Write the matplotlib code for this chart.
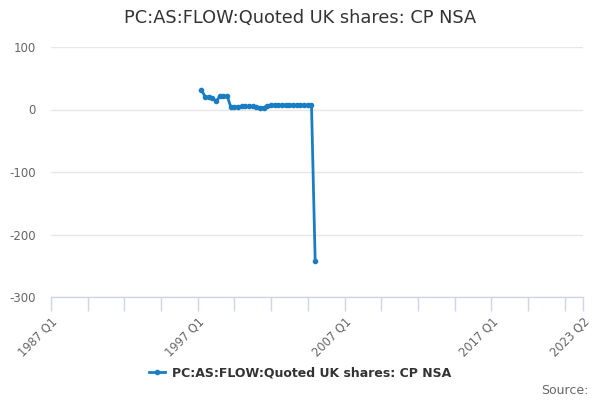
import matplotlib
matplotlib.use("Agg")
import matplotlib.pyplot as plt
from matplotlib.lines import Line2D

title = "PC:AS:FLOW:Quoted UK shares: CP NSA"
series_name = "PC:AS:FLOW:Quoted UK shares: CP NSA"

quarters = ["1997 Q2", "1997 Q3", "1997 Q4", "1998 Q1", "1998 Q2", "1998 Q3", "1998 Q4", "1999 Q1",
            "1999 Q2", "1999 Q3", "1999 Q4", "2000 Q1", "2000 Q2", "2000 Q3", "2000 Q4", "2001 Q1",
            "2001 Q2", "2001 Q3", "2001 Q4", "2002 Q1", "2002 Q2", "2002 Q3", "2002 Q4", "2003 Q1",
            "2003 Q2", "2003 Q3", "2003 Q4", "2004 Q1", "2004 Q2", "2004 Q3", "2004 Q4", "2005 Q1"]
values = [32, 20, 20, 19, 13, 21, 21, 22,
          4, 4, 4, 5, 5, 5, 5, 4,
          3, 3, 6, 7, 7, 7, 7, 7,
          7, 7, 7, 7, 7, 7, 7, -242]

axis_start = "1987 Q1"
axis_end = "2023 Q2"
labelled_ticks = ["1987 Q1", "1997 Q1", "2007 Q1", "2017 Q1", "2023 Q2"]
y_ticks = [100, 0, -100, -200, -300]


def qindex(label):
    year, q = label.split(" Q")
    return (int(year) - int(axis_start[:4])) * 4 + int(q) - 1


color = "#1a7dc2"
fig = plt.figure(figsize=(6, 4), dpi=100)
ax = fig.add_axes([51 / 600, 103 / 400, 532 / 600, 250 / 400])

xs = [qindex(q) for q in quarters]
ax.plot(xs, values, color=color, linewidth=2, marker="o", markersize=3, zorder=3)

end = qindex(axis_end)
ax.set_xlim(0, end)
ax.set_ylim(-300, 100)

# ticks every 10 quarters plus the last one, labels only on some
tick_pos = list(range(0, end, 10)) + [end]
ax.set_xticks(tick_pos)
lab_idx = {qindex(l): l for l in labelled_ticks}
ax.set_xticklabels([lab_idx.get(p, "") for p in tick_pos], rotation=45, ha="right",
                   rotation_mode="anchor", fontsize=8.3, color="#666666")
ax.tick_params(axis="x", length=10, width=1, color="#ccd6eb", pad=3)

ax.set_yticks(y_ticks)
ax.set_yticklabels([str(v) for v in y_ticks], fontsize=8.5, color="#666666")
ax.tick_params(axis="y", length=0, pad=11)
ax.grid(axis="y", color="#e6e6e6", linewidth=1)
ax.set_axisbelow(True)

for s in ["top", "right", "left"]:
    ax.spines[s].set_visible(False)
ax.spines["bottom"].set_color("#ccd6eb")
ax.spines["bottom"].set_linewidth(1)

fig.text(0.5, 1 - 18 / 400, title, ha="center", va="center", fontsize=12.8, color="#333333")

handle = Line2D([], [], color=color, linewidth=2, marker="o", markersize=3)
fig.legend([handle], [series_name], loc="center", bbox_to_anchor=(0.5, 1 - 373 / 400),
           frameon=False, prop={"size": 9, "weight": "bold"}, labelcolor="#333333",
           handlelength=1.3, handletextpad=0.5)

fig.text(588 / 600, 1 - 390 / 400, "Source:", ha="right", va="center", fontsize=9, color="#666666")

fig.savefig("out.png", dpi=100)
